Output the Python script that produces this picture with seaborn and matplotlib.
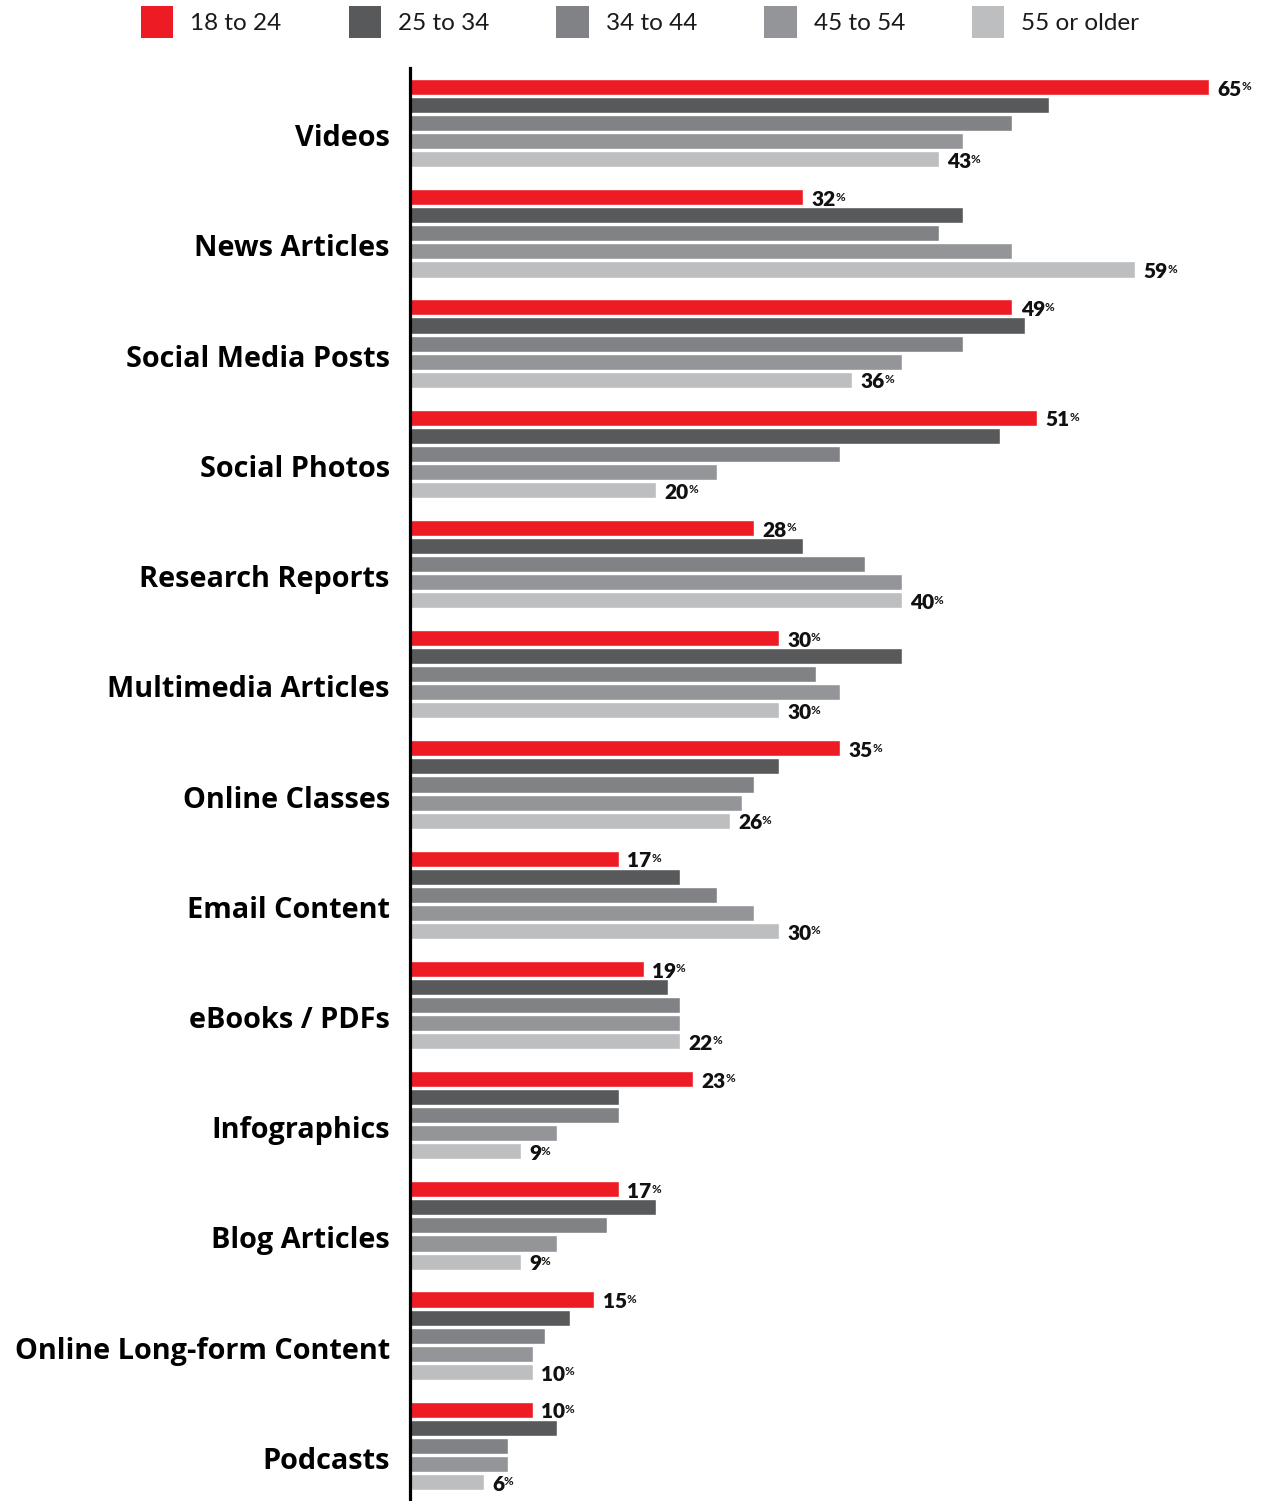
import matplotlib
matplotlib.use("Agg")
import matplotlib.pyplot as plt
import matplotlib.transforms as mtransforms
from matplotlib.patches import Patch
import pandas as pd
import seaborn as sns

# Content types and age groups
categories = ["Videos", "News Articles", "Social Media Posts", "Social Photos",
              "Research Reports", "Multimedia Articles", "Online Classes",
              "Email Content", "eBooks / PDFs", "Infographics", "Blog Articles",
              "Online Long-form Content", "Podcasts"]
age_groups = ["18 to 24", "25 to 34", "34 to 44", "45 to 54", "55 or older"]

# Share of respondents (%) per age group, in category order
age_18_24 = [65, 32, 49, 51, 28, 30, 35, 17, 19, 23, 17, 15, 10]
age_25_34 = [52, 45, 50, 48, 32, 40, 30, 22, 21, 17, 20, 13, 12]
age_34_44 = [49, 43, 45, 35, 37, 33, 28, 25, 22, 17, 16, 11, 8]
age_45_54 = [45, 49, 40, 25, 40, 35, 27, 28, 22, 12, 12, 10, 8]
age_55_up = [43, 59, 36, 20, 40, 30, 26, 30, 22, 9, 9, 10, 6]

colors = ["#ED1C24", "#58595B", "#808285", "#939598", "#BCBEC0"]

series = [age_18_24, age_25_34, age_34_44, age_45_54, age_55_up]
rows = []
for grp, vals in zip(age_groups, series):
    for cat, v in zip(categories, vals):
        rows.append({"category": cat, "age": grp, "value": v})
df = pd.DataFrame(rows)

sns.set_theme(style="white")
plt.rcParams["font.family"] = ["Lato", "DejaVu Sans"]

fig = plt.figure(figsize=(12.62, 15.01), dpi=100)
W, H = 1262, 1501
ax = fig.add_axes([410 / W, 0, (W - 410) / W, (1501 - 68) / H])

sns.barplot(data=df, y="category", x="value", hue="age", order=categories,
            hue_order=age_groups, palette=colors, orient="h", width=0.82,
            gap=0.11, saturation=1, legend=False, ax=ax)

ax.set_xlim(0, (W - 411) / 12.277)
ax.set_ylim(12.5, -0.5)
ax.set_xlabel("")
ax.set_ylabel("")
ax.set_xticks([])
for s in ["top", "right", "bottom"]:
    ax.spines[s].set_visible(False)
ax.spines["left"].set_color("black")
ax.spines["left"].set_linewidth(2.3)
ax.tick_params(axis="y", length=0, pad=14.5)

# Category names sit slightly below the centre of their bar group
shift = mtransforms.ScaledTranslation(0, -12 / 100, fig.dpi_scale_trans)
for lbl in ax.get_yticklabels():
    lbl.set_fontfamily(["Open Sans", "DejaVu Sans"])
    lbl.set_fontsize(20.8)
    lbl.set_fontweight("bold")
    lbl.set_color("black")
    lbl.set_transform(lbl.get_transform() + shift)

# Value labels on the youngest and oldest groups
for ci in (0, 4):
    cont = ax.containers[ci]
    for bar, v in zip(cont, series[ci]):
        y = bar.get_y() + bar.get_height() / 2
        t = ax.annotate(f"{v}", xy=(bar.get_width(), y), xytext=(6, -0.5),
                        textcoords="offset points", ha="left",
                        va="center_baseline", fontsize=15,
                        fontweight="heavy", color="#111111")
        ax.annotate("%", xy=(1, 1), xycoords=t, xytext=(-0.2, -1.2),
                    textcoords="offset points", ha="left", va="top",
                    fontsize=8.5, fontweight="bold", color="#111111")

handles = [Patch(facecolor=c, edgecolor="none") for c in colors]
fig.legend(handles, age_groups, loc="upper left",
           bbox_to_anchor=(141 / W, 1 - 6 / H), ncol=5, frameon=False,
           handlelength=1.33, handleheight=1.68, handletextpad=0.7,
           columnspacing=2.76, borderaxespad=0, borderpad=0,
           prop={"weight": "normal", "size": 17.5}, labelcolor="#1a1a1a")

fig.savefig("out.png", dpi=100, facecolor="white")
